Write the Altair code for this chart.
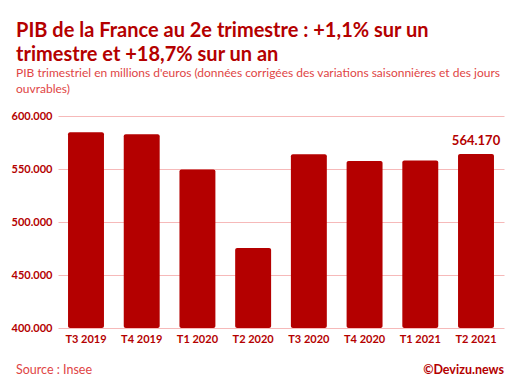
import altair as alt
import pandas as pd

quarters = ["T3 2019", "T4 2019", "T1 2020", "T2 2020", "T3 2020", "T4 2020", "T1 2021", "T2 2021"]
pib = [584700, 582700, 549500, 475400, 563800, 557600, 558000, 564170]

df = pd.DataFrame({"q": quarters, "v": pib})

DARK = "#b40000"
LIGHT = "#e04545"
GRID = "#f6b9b9"
FONT = "Lato"

base = alt.Chart(df)

bars = base.mark_bar(color=DARK, cornerRadius=2).encode(
    x=alt.X("q:N", sort=quarters, title=None,
            scale=alt.Scale(paddingInner=0.355, paddingOuter=0.18),
            axis=alt.Axis(labelAngle=0, labelFont=FONT, labelFontWeight="bold",
                          labelFontSize=11, labelColor=DARK, domain=False, ticks=False,
                          labelPadding=5)),
    y=alt.Y("v:Q", title=None,
            scale=alt.Scale(domain=[400000, 600000], nice=False, zero=False),
            axis=alt.Axis(values=[400000, 450000, 500000, 550000, 600000],
                          labelExpr="replace(format(datum.value, ',d'), ',', '.')",
                          labelFont=FONT, labelFontWeight="bold", labelFontSize=11,
                          labelColor=DARK, domain=False, ticks=False, labelPadding=6,
                          gridColor=GRID, gridWidth=1)),
    y2=alt.datum(400000),
)

label = base.transform_filter(alt.datum.q == "T2 2021").transform_calculate(
    t="replace(format(datum.v, ',d'), ',', '.')"
).mark_text(color=DARK, font=FONT, fontWeight="bold", fontSize=13, dy=-6, baseline="bottom").encode(
    x=alt.X("q:N", sort=quarters),
    y="v:Q",
    text="t:N",
)

source = alt.Chart(pd.DataFrame({"t": ["Source : Insee"]})).mark_text(
    align="left", baseline="middle", color=LIGHT, font=FONT, fontSize=12.5
).encode(x=alt.value(-42), y=alt.value(254), text="t:N")

credit = alt.Chart(pd.DataFrame({"t": ["©Devizu.news"]})).mark_text(
    align="right", baseline="middle", color=DARK, font=FONT, fontWeight="bold", fontSize=12.5
).encode(x=alt.value(446), y=alt.value(254), text="t:N")

chart = alt.layer(bars, label, source, credit).properties(
    width=446, height=212,
    padding={"left": 50, "top": 108, "right": 8, "bottom": 50},
    autosize=alt.AutoSizeParams(type="none"),
    title=alt.TitleParams(
        text=["PIB de la France au 2e trimestre : +1,1% sur un", "trimestre et +18,7% sur un an"],
        subtitle=["PIB trimestriel en millions d'euros (données corrigées des variations saisonnières et des jours", "ouvrables)"],
        anchor="start", frame="group", dx=-42, offset=15,
        font=FONT, fontSize=20, fontWeight="bold", color=DARK, lineHeight=24,
        subtitleFont=FONT, subtitleFontSize=12, subtitleColor=LIGHT, subtitleLineHeight=16,
        subtitlePadding=3,
    ),
).configure_view(stroke=None)

chart.save("out.html", embed_options={"renderer": "svg", "actions": False})
